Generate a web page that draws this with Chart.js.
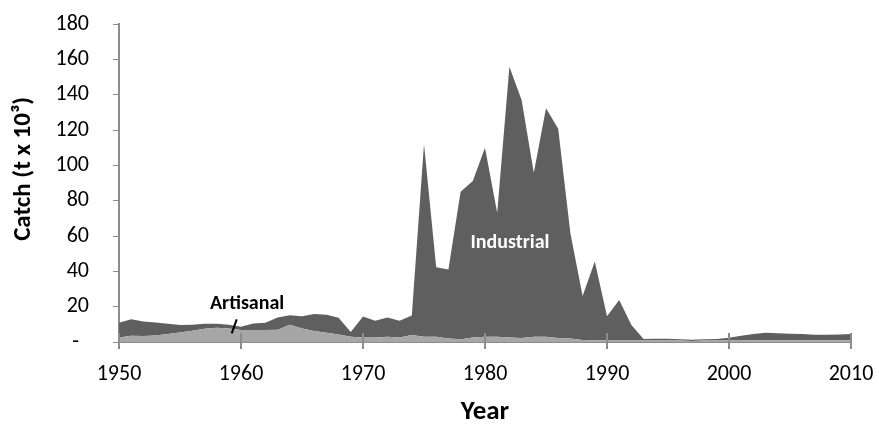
<!DOCTYPE html>
<html>
<head>
<meta charset="utf-8">
<script src="https://cdn.jsdelivr.net/npm/chart.js@4"></script>
<style>
  html, body { margin: 0; padding: 0; background: #fff; }
  #wrap { width: 879px; height: 426px; }
</style>
</head>
<body>
<div id="wrap"><canvas id="catchChart"></canvas></div>
<script>
const years = [];
for (let y = 1950; y <= 2010; y++) years.push(y);

const artisanal = [2.6, 3.6, 3.4, 3.7, 4.5, 5.4, 6.4, 7.5, 8.0, 7.7,
	6.8, 6.8, 6.8, 7.0, 9.7, 7.7, 6.2, 5.3, 4.3, 3.0,
	2.6, 2.5, 3.0, 2.5, 4.0, 3.0, 3.0, 2.0, 1.5, 2.5,
	3.0, 3.0, 2.6, 2.2, 3.0, 3.0, 2.3, 2.0, 1.2, 1.0,
	0.8, 0.8, 0.8, 0.8, 0.8, 0.8, 0.8, 0.6, 0.8, 0.8,
	0.8, 0.8, 1.0, 1.0, 1.0, 1.0, 1.0, 1.0, 1.0, 1.0,
	1.0];

const industrial = [8.3, 9.3, 8.2, 7.3, 5.8, 4.2, 3.4, 2.8, 2.3, 2.1,
	1.8, 3.7, 4.1, 6.9, 5.5, 6.9, 9.7, 10.1, 9.4, 2.6,
	11.9, 9.5, 10.9, 9.5, 11.0, 109.0, 39.3, 39.1, 83.5, 88.6,
	107.0, 70.2, 153.2, 134.8, 92.8, 129.3, 118.4, 59.5, 24.8, 44.5,
	13.8, 23.0, 8.8, 0.9, 1.0, 1.1, 0.8, 0.7, 0.7, 0.9,
	1.6, 2.8, 3.5, 4.3, 3.9, 3.7, 3.5, 3.1, 3.1, 3.3,
	3.5];

const yTicks = [0, 20, 40, 60, 80, 100, 120, 140, 160, 180];
const xTicks = [1950, 1960, 1970, 1980, 1990, 2000, 2010];

const FONT = "Carlito, Lato, 'Open Sans', sans-serif";
const AXIS_GREY = '#8c8c8c';

function noPadding(scale){
	scale.paddingTop = 0;
	scale.paddingBottom = 0;
	scale.paddingLeft = 0;
	scale.paddingRight = 0;
}

// text labels inside the chart and the tick marks that cross the x axis
const annotate = {
	id: 'annotate',
	afterDatasetsDraw(chart) {
		const ctx = chart.ctx;
		const xs = chart.scales.x, ys = chart.scales.y;
		ctx.save();
		ctx.strokeStyle = AXIS_GREY;
		ctx.lineWidth = 2;
		xTicks.forEach(function(t){
			const px = Math.round(xs.getPixelForValue(t));
			ctx.beginPath();
			ctx.moveTo(px, ys.bottom);
			ctx.lineTo(px, ys.bottom - 9);
			ctx.stroke();
		});
		ctx.textAlign = 'center';
		ctx.textBaseline = 'middle';
		ctx.font = "bold 20px " + FONT;
		ctx.fillStyle = '#ffffff';
		ctx.fillText('Industrial', xs.getPixelForValue(1982.05), ys.getPixelForValue(56));
		ctx.fillStyle = '#000000';
		ctx.fillText('Artisanal', xs.getPixelForValue(1960.5), ys.getPixelForValue(21.5));
		ctx.strokeStyle = '#000000';
		ctx.lineWidth = 2;
		ctx.beginPath();
		ctx.moveTo(xs.getPixelForValue(1959.65), ys.getPixelForValue(12.8));
		ctx.lineTo(xs.getPixelForValue(1959.24), ys.getPixelForValue(4.9));
		ctx.stroke();
		ctx.restore();
	}
};

const ctx = document.getElementById('catchChart').getContext('2d');
const catchChart = new Chart(ctx, {
	type: 'line',
	data: {
		datasets: [{
			label: 'Artisanal',
			data: years.map(function(y, i){ return {x: y, y: artisanal[i]}; }),
			backgroundColor: '#a6a6a6',
			borderWidth: 0,
			pointRadius: 0,
			fill: 'origin'
		},
		{
			label: 'Industrial',
			data: years.map(function(y, i){ return {x: y, y: industrial[i]}; }),
			backgroundColor: '#5f5f5f',
			borderWidth: 0,
			pointRadius: 0,
			fill: '-1'
		}]
	},
	options: {
		responsive: true,
		maintainAspectRatio: false,
		animation: false,
		layout: { padding: { top: 24, right: 28, bottom: 0, left: 0 } },
		plugins: {
			legend: { display: false },
			tooltip: { enabled: false }
		},
		scales: {
			x: {
				type: 'linear',
				min: 1950,
				max: 2010,
				afterBuildTicks: function(scale){ scale.ticks = xTicks.map(function(v){ return {value: v}; }); },
				afterFit: function(scale){ scale.height = 84; noPadding(scale); },
				border: { color: AXIS_GREY, width: 2 },
				grid: { drawOnChartArea: false, color: AXIS_GREY, lineWidth: 2, tickLength: 7 },
				ticks: {
					padding: 12,
					color: '#000',
					font: { family: FONT, size: 22 },
					maxRotation: 0,
					callback: function(v){ return String(v); }
				},
				title: {
					display: true,
					text: 'Year',
					color: '#000',
					font: { family: FONT, size: 27, weight: 'bold', lineHeight: 1 },
					padding: { top: 0, bottom: 0 }
				}
			},
			y: {
				stacked: true,
				min: 0,
				max: 180,
				afterBuildTicks: function(scale){ scale.ticks = yTicks.map(function(v){ return {value: v}; }); },
				afterFit: function(scale){ scale.width = 119; noPadding(scale); },
				border: { color: AXIS_GREY, width: 2 },
				grid: { drawOnChartArea: false, color: AXIS_GREY, lineWidth: 1, tickLength: 6 },
				ticks: {
					padding: 24,
					color: '#000',
					font: { family: FONT, size: 22 },
					callback: function(v){ return v === 0 ? '-  ' : String(v); }
				},
				title: {
					display: true,
					// leading spaces nudge the rotated title up a little, like the original
					text: '     Catch (t x 10³)',
					color: '#000',
					font: { family: FONT, size: 25, weight: 'bold', lineHeight: 1.2 },
					padding: { top: 9, bottom: 0 }
				}
			}
		}
	},
	plugins: [annotate]
});
</script>
</body>
</html>
